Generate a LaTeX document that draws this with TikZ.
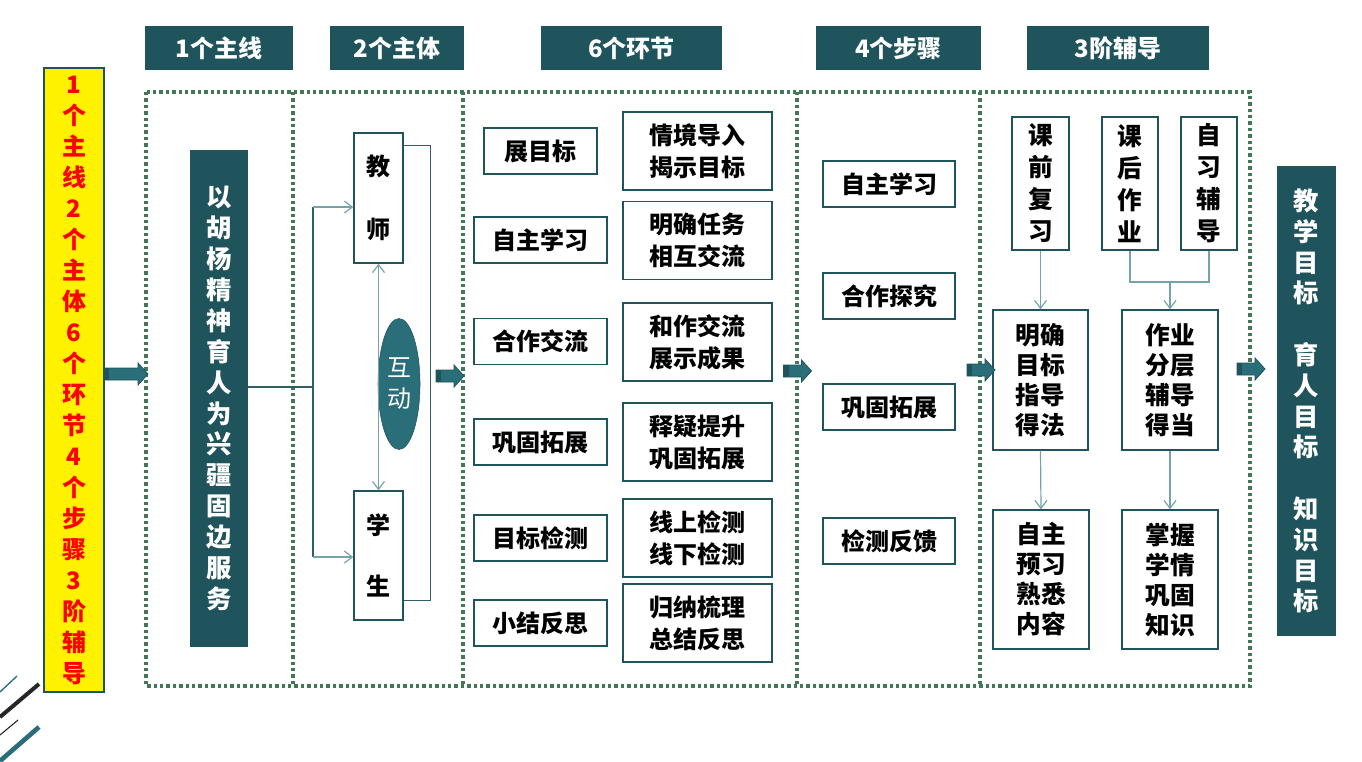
\documentclass[tikz,border=0pt]{standalone}
\usepackage{fontspec}
\setmainfont{Noto Sans CJK SC}
\usetikzlibrary{arrows.meta,shapes.geometric,calc}

\definecolor{darkteal}{RGB}{31,84,92}
\definecolor{midteal}{RGB}{42,110,122}
\definecolor{lineteal}{RGB}{45,95,105}
\definecolor{lightteal}{RGB}{118,162,170}
\definecolor{dotgreen}{RGB}{66,120,86}

\tikzset{
  sz/.style 2 args={minimum width=#1*0.75pt, minimum height=#2*0.75pt},
  tab/.style={fill=darkteal, text=white, inner sep=0pt, font=\bfseries\fontsize{18}{22}\selectfont},
  darkbar/.style={fill=darkteal, text=white, inner sep=0pt, align=center, font=\bfseries\fontsize{19}{23.2}\selectfont},
  wbox/.style={draw=darkteal, line width=1pt, fill=white, inner sep=0pt, align=center, font=\bfseries\fontsize{18}{24}\selectfont},
  colbox/.style={wbox, font=\bfseries\fontsize{18.5}{24}\selectfont},
  pairbox/.style={wbox, font=\bfseries\fontsize{18.5}{22.5}\selectfont},
  dotframe/.style={dotgreen, line width=2.6pt, dash pattern=on 2.6pt off 2.2pt},
  bracket/.style={lineteal, line width=0.9pt},
  link/.style={lightteal, line width=0.9pt, -{Straight Barb[length=6pt,width=9pt]}},
  pics/blockarrow/.style={code={
    \draw[fill=midteal, draw=darkteal, line width=0.6pt] (-#1,-6) -- ({#1-10},-6) -- ({#1-10},-11) -- (#1,0) -- ({#1-10},11) -- ({#1-10},6) -- (-#1,6) -- cycle;
    \fill[darkteal] (-#1,-6) rectangle ({-#1+5},6);
  }}
}

\begin{document}
\begin{tikzpicture}[x=0.75pt,y=-0.75pt]
    \useasboundingbox (0,0) rectangle (1362,761);

    % Corner strokes
    \draw[midteal, line width=1pt] (0,692) -- (17,676);
    \draw[black!85, line width=3pt] (0,717) -- (39,684);
    \draw[black!85, line width=0.8pt] (0,735) -- (18,720);
    \draw[midteal, line width=3.5pt] (0,761) -- (39,727);

    % Header tabs
    \node[tab, sz={148}{44}] (tabline) at (219,48) {1个主线};
    \node[tab, sz={134}{44}] (tabactor) at (397,48) {2个主体};
    \node[tab, sz={181}{44}] (tablink) at (631.5,48) {6个环节};
    \node[tab, sz={165}{44}] (tabstep) at (898.5,48) {4个步骤};
    \node[tab, sz={182}{44}] (tabtutor) at (1118,48) {3阶辅导};

    % Dotted frame and dividers
    \draw[dotframe] (146,92) rectangle (1250,686);
    \foreach \x in {293,463,797,980}
        \draw[dotframe] (\x,92) -- (\x,686);

    % Summary column
    \node[draw=darkteal, fill=yellow, text=red, line width=0.8pt, sz={60}{624}, inner sep=0pt, align=center,
          font=\bfseries\fontsize{18}{23.25}\selectfont] (summary) at (74,380)
        {1\\个\\主\\线\\2\\个\\主\\体\\6\\个\\环\\节\\4\\个\\步\\骤\\3\\阶\\辅\\导};

    % Main line
    \node[darkbar, sz={58}{497}] (mission) at (219,398.5) {以\\胡\\杨\\精\\神\\育\\人\\为\\兴\\疆\\固\\边\\服\\务};

    % Two actors
    \node[wbox, sz={49}{130}, font=\bfseries\fontsize{18}{47}\selectfont] (teacher) at (378.5,198) {教\\师};
    \node[wbox, sz={49}{129}, font=\bfseries\fontsize{18}{46}\selectfont] (student) at (378.5,555.5) {学\\生};
    \node[ellipse, draw=darkteal, fill=midteal, text=white, sz={42}{131}, inner sep=0pt, align=center,
          font=\fontsize{18}{23.25}\selectfont] (interact) at (399,384) {互\\动};

    \coordinate (split) at (313,387);
    \coordinate (splittop) at (313,207);
    \coordinate (splitbot) at (313,557);
    \draw[bracket] (mission.east |- split) -- (split);
    \draw[bracket] (splittop) -- (splitbot);
    \draw[link] (splittop) -- (splittop -| teacher.west);
    \draw[link] (splitbot) -- (splitbot -| student.west);
    \draw[bracket] ($(teacher.north east)+(0,13)$) -- ++(27,0) |- ($(student.south east)+(0,-20)$);
    \draw[link, {Straight Barb[length=6pt,width=9pt]}-{Straight Barb[length=6pt,width=9pt]}] (teacher.south) -- (student.north);

    % Six links
    \node[wbox, sz={113}{46}] (phase1) at (540.5,151) {展目标};
    \node[wbox, sz={133}{46}] (phase2) at (540.5,240) {自主学习};
    \node[wbox, sz={133}{46}] (phase3) at (540.5,341.5) {合作交流};
    \node[wbox, sz={133}{46}] (phase4) at (540.5,442) {巩固拓展};
    \node[wbox, sz={133}{46}] (phase5) at (540.5,538) {目标检测};
    \node[wbox, sz={133}{46}] (phase6) at (540.5,623) {小结反思};

    \node[wbox, sz={149}{78}] (detail1) at (697.5,151) {情境导入\\揭示目标};
    \node[wbox, sz={149}{78}] (detail2) at (697.5,240.5) {明确任务\\相互交流};
    \node[wbox, sz={149}{78}] (detail3) at (697.5,342) {和作交流\\展示成果};
    \node[wbox, sz={149}{78}] (detail4) at (697.5,442) {释疑提升\\巩固拓展};
    \node[wbox, sz={149}{78}] (detail5) at (697.5,538) {线上检测\\线下检测};
    \node[wbox, sz={149}{78}] (detail6) at (697.5,623) {归纳梳理\\总结反思};

    % Four steps
    \node[wbox, sz={132}{46}] (stage1) at (889,184) {自主学习};
    \node[wbox, sz={132}{46}] (stage2) at (889,296) {合作探究};
    \node[wbox, sz={132}{46}] (stage3) at (889,407) {巩固拓展};
    \node[wbox, sz={132}{46}] (stage4) at (889,541) {检测反馈};

    % Three levels of tutoring
    \node[colbox, sz={57}{133}] (review) at (1040.5,183.5) {课\\前\\复\\习};
    \node[colbox, sz={56}{133}] (homework) at (1130,183.5) {课\\后\\作\\业};
    \node[colbox, sz={56}{133}] (selfstudy) at (1209,183.5) {自\\习\\辅\\导};
    \node[pairbox, sz={95}{140}] (guide) at (1040.5,380) {明确\\目标\\指导\\得法};
    \node[pairbox, sz={96}{140}] (layer) at (1170,380) {作业\\分层\\辅导\\得当};
    \node[pairbox, sz={96}{139}] (preview) at (1041,579.5) {自主\\预习\\熟悉\\内容};
    \node[pairbox, sz={96}{139}] (master) at (1170,579.5) {掌握\\学情\\巩固\\知识};

    \coordinate (merge) at (1170,282);
    \draw[link] (review.south) -- (guide.north);
    \draw[lightteal, line width=0.9pt] (homework.south) |- (merge) -| (selfstudy.south);
    \draw[link] (merge) -- (layer.north);
    \draw[link] (guide.south) -- (preview.north);
    \draw[link] (layer.south) -- (master.north);

    % Goals
    \node[darkbar, sz={59}{470}, font=\bfseries\fontsize{19}{23.1}\selectfont] (goals) at (1306.5,401)
        {教\\学\\目\\标\\[23.1pt]育\\人\\目\\标\\[23.1pt]知\\识\\目\\标};

    % Block arrows between stages
    \pic at (126,374) {blockarrow=22};
    \pic at (450,376) {blockarrow=14};
    \pic at (797.5,371) {blockarrow=14};
    \pic at (981,370) {blockarrow=14};
    \pic at (1251,369) {blockarrow=14};
\end{tikzpicture}
\end{document}
